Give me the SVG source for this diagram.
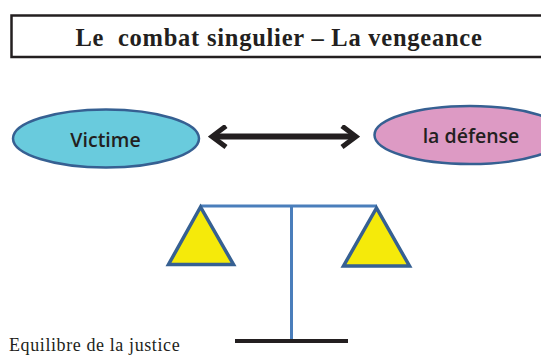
<svg xmlns="http://www.w3.org/2000/svg" width="541" height="355" viewBox="0 0 541 355">
<style>
.serif{font-family:"Liberation Serif","Times New Roman",serif;fill:#231f20}
.sans{font-family:"Open Sans","Noto Sans",sans-serif;font-weight:600;fill:#231f20;font-size:19.500px;text-anchor:middle}
.node{stroke:#366092;stroke-width:2.5}
.pan{fill:#f5ea0a;stroke:#366092;stroke-width:3.5;stroke-linejoin:miter}
.blue{stroke:#4a7ebb;stroke-width:3;fill:none}
</style>
<defs>
<marker id="head" viewBox="0 0 22 24" refX="16" refY="12" markerUnits="userSpaceOnUse" markerWidth="22" markerHeight="24" orient="auto-start-reverse">
<path d="M4 1.500 L18 12 L4 22.500" fill="none" stroke="#231f20" stroke-width="5"/>
</marker>
</defs>
<rect width="541" height="355" fill="#fff"/>
<g id="title">
<path d="M545 15.500H11.500V57H545" fill="none" stroke="#231f20" stroke-width="2.500"/>
<text class="serif" x="279" y="46" font-size="24.500" font-weight="700" letter-spacing="0.760" text-anchor="middle" xml:space="preserve">Le  combat singulier – La vengeance</text>
</g>
<g id="victime">
<ellipse class="node" cx="106" cy="138.500" rx="93" ry="29" fill="#69cbdd"/>
<text class="sans" x="105.500" y="147">Victime</text>
</g>
<g id="defense">
<ellipse class="node" cx="470" cy="135" rx="95.500" ry="29" fill="#dd9ac4"/>
<text class="sans" x="471" y="143">la défense</text>
</g>
<g id="connectors">
<line x1="214" y1="136.500" x2="354" y2="136.500" stroke="#231f20" stroke-width="6" marker-start="url(#head)" marker-end="url(#head)"/>
</g>
<g id="balance">
<path class="blue" d="M200 206H377M291.500 206V340"/>
<path class="pan" d="M200.500 207L168.500 264.500H233.500Z"/>
<path class="pan" d="M376.500 208L343.500 266H409.500Z"/>
<line x1="235" y1="341" x2="348" y2="341" stroke="#231f20" stroke-width="4"/>
</g>
<g id="caption">
<text class="serif" x="9" y="351" font-size="18" letter-spacing="0.600">Equilibre de la justice</text>
</g>
</svg>
